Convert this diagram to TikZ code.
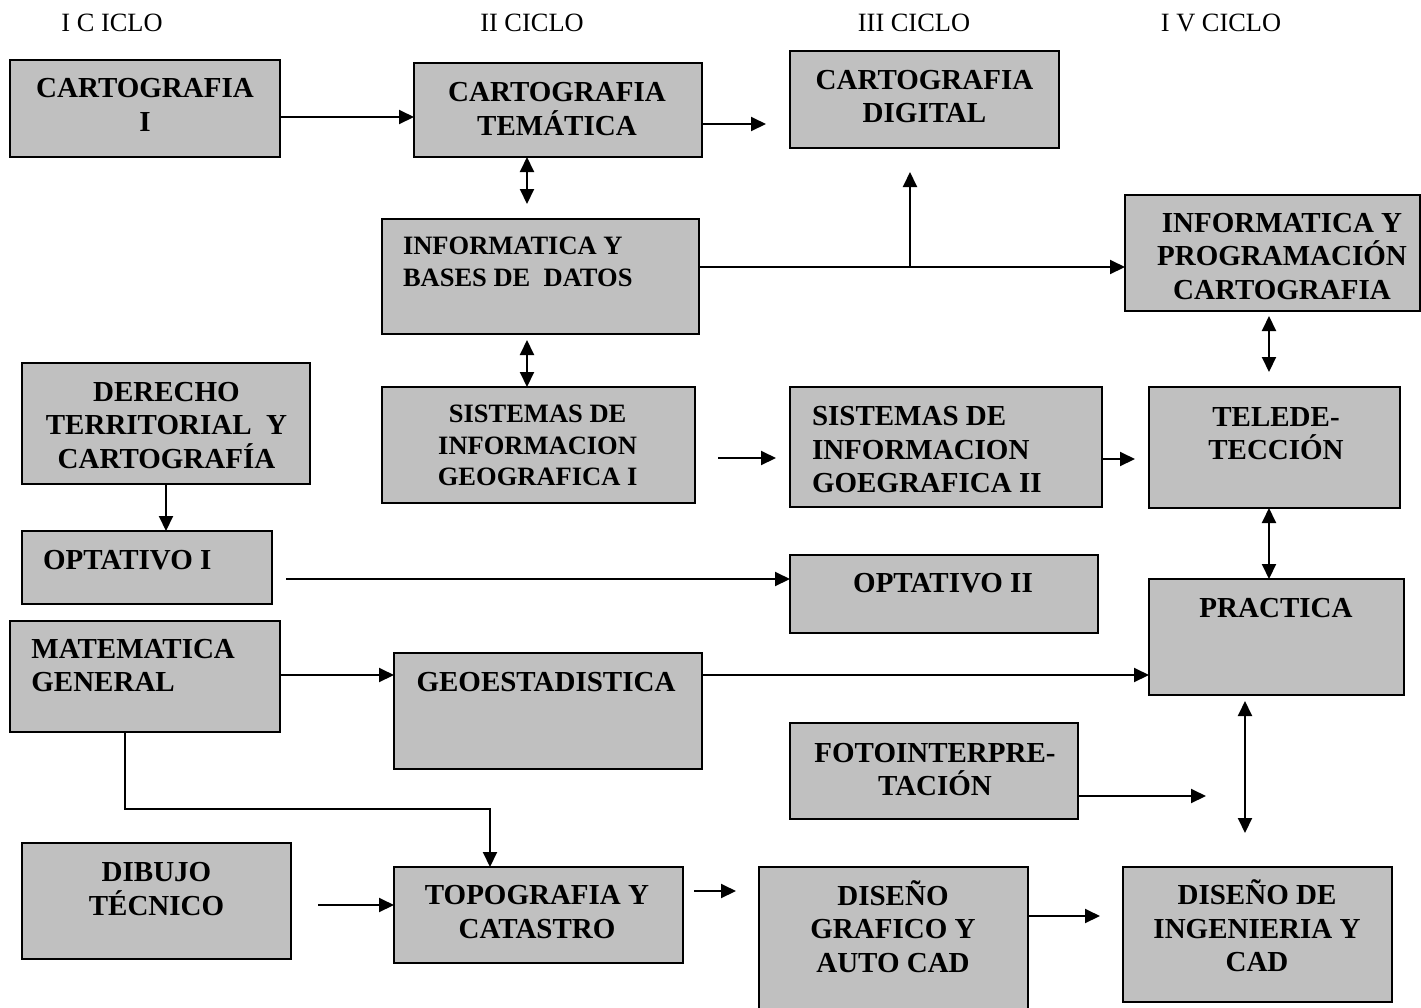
\documentclass[tikz,border=0pt]{standalone}
\usepackage{fontspec}
\setmainfont{Liberation Serif}
\usetikzlibrary{arrows.meta}
\definecolor{boxgray}{HTML}{C0C0C0}
\newcommand\mkbox[5]{\node[boxst,minimum width={(#4-#2)*0.5pt},minimum height={(#5-#3)*0.5pt}] (#1) at ({(#2+#4)/2},{(#3+#5)/2}) {};}
\begin{document}
\begin{tikzpicture}[x=0.5pt,y=-0.5pt,
  boxst/.style={draw,fill=boxgray,line width=1.1pt,inner sep=0pt,outer sep=0pt},
  txt/.style={font=\fontsize{14.5}{16.75}\selectfont\bfseries,align=center,inner sep=0pt},
  txts/.style={font=\fontsize{13.25}{15.75}\selectfont\bfseries,align=center,inner sep=0pt},
  hdr/.style={font=\fontsize{13.2}{15}\selectfont,inner sep=0pt},
  arr/.style={line width=1pt,-{Triangle[length=7.5pt,width=7pt]}},
  arrb/.style={line width=1pt,{Triangle[length=7.5pt,width=7pt]}-{Triangle[length=7.5pt,width=7pt]}}]
\fill[white] (0,0) rectangle (1421,1008);
\useasboundingbox (0,0) rectangle (1421,1008);
% headers
\node[hdr] (h1) at (112,22.5) {I C ICLO};
\node[hdr] (h2) at (532,22.5) {II CICLO};
\node[hdr] (h3) at (914,22.5) {III CICLO};
\node[hdr] (h4) at (1221,22.5) {I V CICLO};
% boxes
\mkbox{cart}{10}{60}{280}{157}
\mkbox{ctem}{414}{63}{702}{157}
\mkbox{cdig}{790}{51}{1059}{148}
\mkbox{infobd}{382}{219}{699}{334}
\mkbox{infoprog}{1125}{195}{1420}{311}
\mkbox{derecho}{22}{363}{310}{484}
\mkbox{sigi}{382}{387}{695}{503}
\mkbox{sigii}{790}{387}{1102}{507}
\mkbox{telede}{1149}{387}{1400}{508}
\mkbox{opti}{22}{531}{272}{604}
\mkbox{optii}{790}{555}{1098}{633}
\mkbox{mate}{10}{621}{280}{732}
\mkbox{geo}{394}{653}{702}{769}
\mkbox{practica}{1149}{579}{1404}{695}
\mkbox{foto}{790}{723}{1078}{819}
\mkbox{dibujo}{22}{843}{291}{959}
\mkbox{topo}{394}{867}{683}{963}
\mkbox{disgraf}{759}{867}{1028}{1012}
\mkbox{disign}{1123}{867}{1392}{1002}
% texts
\node[txt] (tcart) at (145,105) {CARTOGRAFIA\\I};
\node[txt] (tctem) at (557,109) {CARTOGRAFIA\\TEMÁTICA};
\node[txt] (tcdig) at (924.5,96.5) {CARTOGRAFIA\\DIGITAL};
\node[txts,align=left,anchor=west] (tinfobd) at (402.6,262) {INFORMATICA Y\\BASES DE\ \ DATOS};
\node[txt] (tinfoprog) at (1282,256.3) {INFORMATICA Y\\PROGRAMACIÓN\\CARTOGRAFIA};
\node[txt] (tderecho) at (166.5,425.3) {DERECHO\\TERRITORIAL\ \ Y\\CARTOGRAFÍA};
\node[txts] (tsigi) at (537.6,445.7) {SISTEMAS DE\\INFORMACION\\GEOGRAFICA I};
\node[txt,align=left,anchor=west] (tsigii) at (811.6,450) {SISTEMAS DE\\INFORMACION\\GOEGRAFICA II};
\node[txt] (ttelede) at (1276,433.5) {TELEDE-\\TECCIÓN};
\node[txt,anchor=west] (topti) at (42.7,560) {OPTATIVO I};
\node[txt] (toptii) at (943,583) {OPTATIVO II};
\node[txt,align=left,anchor=west] (tmate) at (31,665.5) {MATEMATICA\\GENERAL};
\node[txt] (tgeo) at (546,682) {GEOESTADISTICA};
\node[txt] (tpractica) at (1276,608) {PRACTICA};
\node[txt] (tfoto) at (935,769.5) {FOTOINTERPRE-\\TACIÓN};
\node[txt] (tdibujo) at (156.5,889) {DIBUJO\\TÉCNICO};
\node[txt] (ttopo) at (537,912) {TOPOGRAFIA Y\\CATASTRO};
\node[txt] (tdisgraf) at (893,929.5) {DISE\smash{Ñ}O\\GRAFICO Y\\AUTO CAD};
\node[txt] (tdisign) at (1257,929) {DISE\smash{Ñ}O DE\\INGENIERIA Y\\CAD};
% free end coordinates
\coordinate (e1) at (766,124);
\coordinate (e2) at (527,204);
\coordinate (br) at (910,267);
\coordinate (e3) at (910,172);
\coordinate (e4) at (527,340);
\coordinate (s1) at (718,458);
\coordinate (e5) at (776,458);
\coordinate (e6) at (1135,459);
\coordinate (e7a) at (1269,316);
\coordinate (e7b) at (1269,372);
\coordinate (s2) at (286,579);
\coordinate (k1) at (125,809);
\coordinate (k2) at (490,809);
\coordinate (s3) at (318,905);
\coordinate (s4) at (694,891);
\coordinate (e8) at (736,891);
\coordinate (e9) at (1100,916);
\coordinate (e10) at (1206,796);
\coordinate (e11a) at (1245,701);
\coordinate (e11b) at (1245,833);
% connectors
\draw[arr] (cart.east |- 0,117) -- (ctem.west |- 0,117);
\draw[arr] (ctem.east |- e1) -- (e1);
\draw[arrb] (ctem.south -| e2) -- (e2);
\draw[arr] (infobd.east |- br) -- (infoprog.west |- br);
\draw[arr] (br) -- (e3);
\draw[arrb] (e4) -- (sigi.north -| e4);
\draw[arr] (s1) -- (e5);
\draw[arr] (sigii.east |- e6) -- (e6);
\draw[arrb] (e7a) -- (e7b);
\draw[arrb] (telede.south -| e7a) -- (practica.north -| e7a);
\draw[arr] (s2) -- (optii.west |- s2);
\draw[arr] (derecho.south -| 166,0) -- (opti.north -| 166,0);
\draw[arr] (mate.east |- 0,675) -- (geo.west |- 0,675);
\draw[arr] (geo.east |- 0,675) -- (practica.west |- 0,675);
\draw[arr] (mate.south -| k1) -- (k1) -- (k2) -- (topo.north -| k2);
\draw[arr] (s3) -- (topo.west |- s3);
\draw[arr] (s4) -- (e8);
\draw[arr] (disgraf.east |- e9) -- (e9);
\draw[arr] (foto.east |- e10) -- (e10);
\draw[arrb] (e11a) -- (e11b);
\end{tikzpicture}
\end{document}
